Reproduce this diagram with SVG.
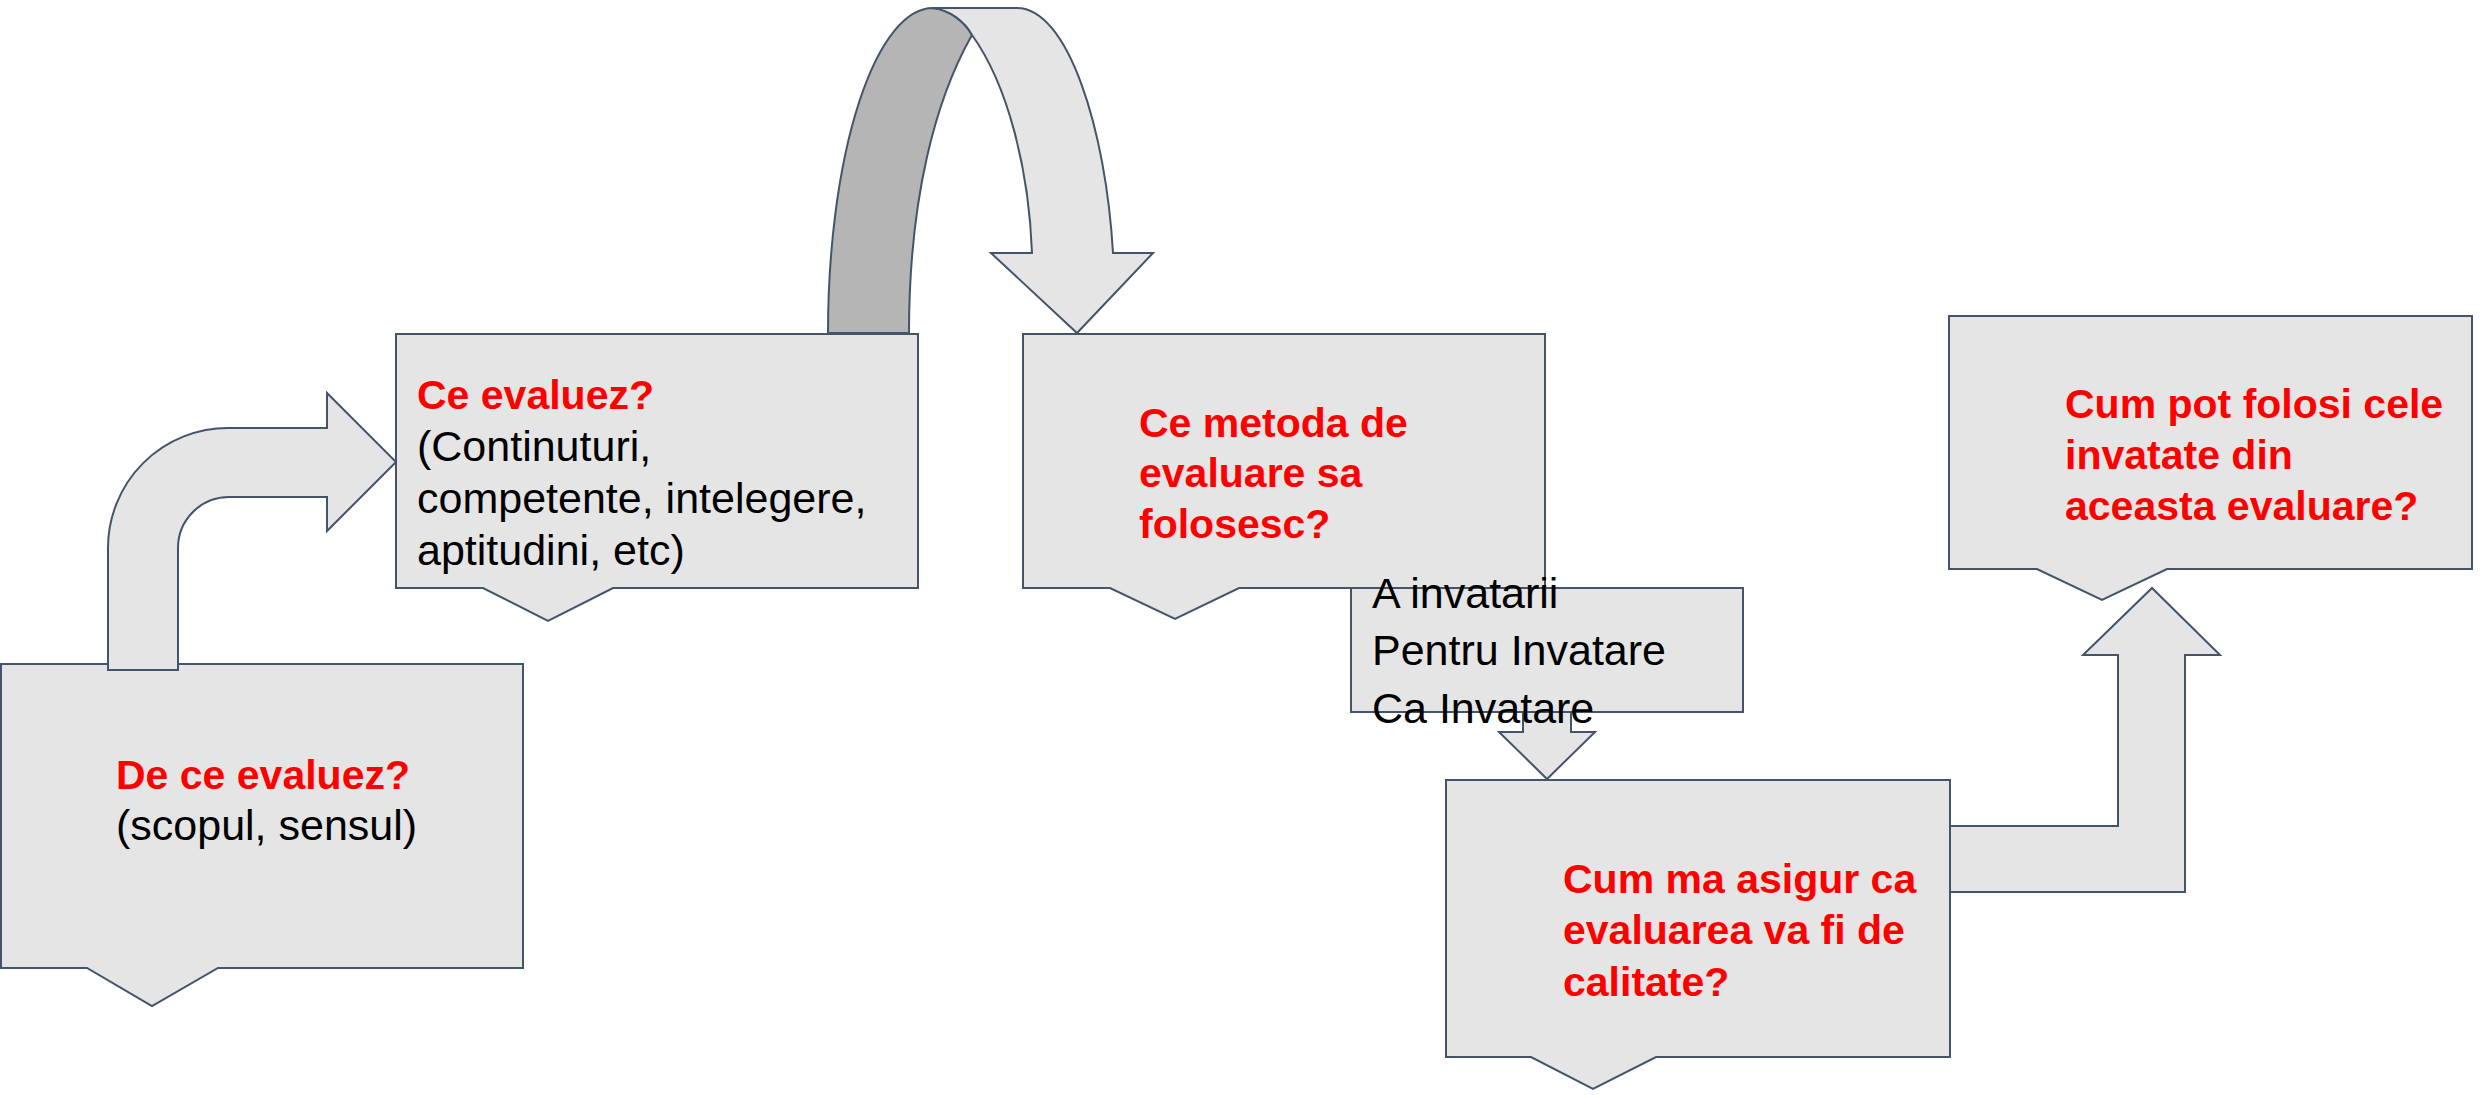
<svg xmlns="http://www.w3.org/2000/svg" width="2483" height="1095" viewBox="0 0 2483 1095">
<style>
.box{fill:#e5e5e5;stroke:#44546a;stroke-width:2;stroke-linejoin:miter}
.arr{fill:#e5e5e5;stroke:#44546a;stroke-width:2;stroke-linejoin:miter}
.dark{fill:#b5b5b5;stroke:#44546a;stroke-width:2}
.q{font-family:"Liberation Sans",Arial,sans-serif;font-weight:bold;font-size:41px;fill:#ff0000}
.t{font-family:"Liberation Sans",Arial,sans-serif;font-size:43px;fill:#000000}
</style>
<rect width="2483" height="1095" fill="#ffffff"/>
<g id="node-de-ce">
<path class="box" d="M1,664 L523,664 L523,968 L218,968 L152,1006 L87,968 L1,968 Z"/>
<text class="q" x="116" y="789">De ce evaluez?</text>
<text class="t" x="116" y="840">(scopul, sensul)</text>
</g>
<g id="node-ce-evaluez">
<path class="box" d="M396,334 L918,334 L918,588 L613,588 L548,621 L483,588 L396,588 Z"/>
<text class="q" x="417" y="409">Ce evaluez?</text>
<text class="t" x="417" y="461">(Continuturi,</text>
<text class="t" x="417" y="513">competente, intelegere,</text>
<text class="t" x="417" y="565">aptitudini, etc)</text>
</g>
<g id="node-metoda">
<path class="box" d="M1023,334 L1545,334 L1545,588 L1239,588 L1175,619 L1110,588 L1023,588 Z"/>
<text class="q" x="1139" y="437">Ce metoda de</text>
<text class="q" x="1139" y="487">evaluare sa</text>
<text class="q" x="1139" y="538">folosesc?</text>
</g>
<g id="connectors">
<path class="arr" d="M108,670 L108,548 A120,120 0 0 1 228,428 L327,428 L327,393 L396,462 L327,531 L327,497 L229,497 A51,51 0 0 0 178,548 L178,670 Z"/>
<path class="dark" d="M828,333 A105,325 0 0 1 933,8 C950,10 965,22 972,35 C935,100 909,200 909,333 Z"/>
<path class="arr" d="M933,8 L1017,8 C1068,8 1106,130 1113,253 L1153,253 L1077,333 L991,253 L1032,253 C1029,170 1008,85 972,35 C965,22 950,10 933,8 Z"/>
<path class="arr" d="M1523,712 L1523,732 L1499,732 L1547,779 L1595,732 L1571,732 L1571,712 Z"/>
<path class="arr" d="M1950,826 L2118,826 L2118,655 L2083,655 L2152,588 L2220,655 L2185,655 L2185,892 L1950,892 Z"/>
</g>
<g id="node-tipuri">
<rect class="box" x="1351" y="588" width="392" height="124"/>
<text class="t" x="1372" y="608">A invatarii</text>
<text class="t" x="1372" y="665">Pentru Invatare</text>
<text class="t" x="1372" y="723">Ca Invatare</text>
</g>
<g id="node-calitate">
<path class="box" d="M1446,780 L1950,780 L1950,1057 L1656,1057 L1593,1089 L1531,1057 L1446,1057 Z"/>
<text class="q" x="1563" y="893">Cum ma asigur ca</text>
<text class="q" x="1563" y="944">evaluarea va fi de</text>
<text class="q" x="1563" y="996">calitate?</text>
</g>
<g id="node-folosi">
<path class="box" d="M1949,316 L2472,316 L2472,569 L2167,569 L2102,600 L2037,569 L1949,569 Z"/>
<text class="q" x="2065" y="418">Cum pot folosi cele</text>
<text class="q" x="2065" y="469">invatate din</text>
<text class="q" x="2065" y="520">aceasta evaluare?</text>
</g>
</svg>
